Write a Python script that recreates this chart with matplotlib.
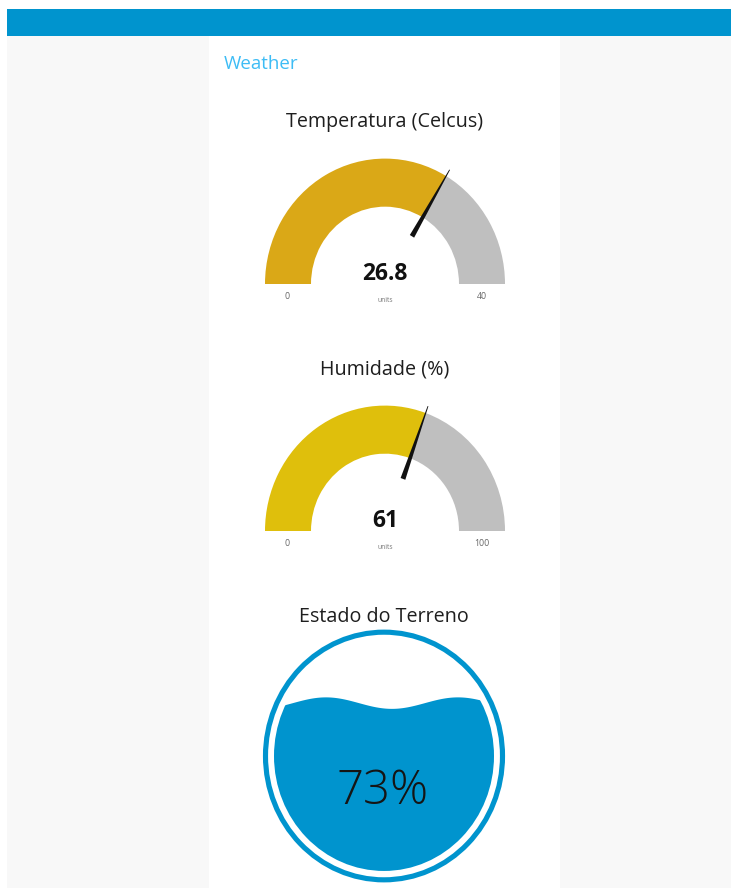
import numpy as np
import matplotlib.pyplot as plt
from matplotlib.patches import Rectangle, Wedge, Circle, Polygon
from matplotlib.transforms import Affine2D

# dashboard content
page_title = 'Weather'
gauge_titles = ['Temperatura (Celcus)', 'Humidade (%)']
gauge_values = [26.8, 61]
gauge_min = [0, 0]
gauge_max = [40, 100]
gauge_units = ['units', 'units']
liquid_title = 'Estado do Terreno'
liquid_value = 73

# styling / layout (pixels)
gauge_colors = ['#daa817', '#dfbf0c']
gauge_rest = '#bfbfbf'
gauge_cx = 385
gauge_cy = [284, 531]
title_y = [122, 369]
r_out, r_in = 120, 74
stretch = 1.045  # screenshot is slightly taller than wide
blue = '#0094ce'
plt.rcParams['font.family'] = ['Open Sans', 'DejaVu Sans']

fig = plt.figure(figsize=(7.31, 8.88), dpi=100)
ax = fig.add_axes([0, 0, 1, 1])
ax.set_xlim(0, 731)
ax.set_ylim(888, 0)
ax.axis('off')


def local(cx, cy):
    return Affine2D().scale(1, stretch).translate(cx, cy) + ax.transData


# page background
ax.add_patch(Rectangle((7, 36), 724, 852, color='#f8f8f8', lw=0))
ax.add_patch(Rectangle((209, 36), 351, 852, color='white', lw=0))
ax.add_patch(Rectangle((7, 9), 724, 27, color=blue, lw=0))
ax.text(224, 64, page_title, color='#3dbcf5', fontsize=13.5, va='center', ha='left')

# gauges
for i in range(len(gauge_values)):
    cy = gauge_cy[i]
    tr = local(gauge_cx, cy)
    f = (gauge_values[i] - gauge_min[i]) / (gauge_max[i] - gauge_min[i])
    a = 180 + 180 * f
    ax.add_patch(Wedge((0, 0), r_out, 180, a, width=r_out - r_in,
                       color=gauge_colors[i], lw=0, transform=tr))
    ax.add_patch(Wedge((0, 0), r_out, a, 360, width=r_out - r_in,
                       color=gauge_rest, lw=0, transform=tr))
    # needle
    t = np.deg2rad(a)
    u = np.array([np.cos(t), np.sin(t)])
    n = np.array([-np.sin(t), np.cos(t)])
    base = 53 * u
    tip = 127 * u
    pts = [base + 2.5 * n, tip + 0.4 * n, tip - 0.4 * n, base - 2.5 * n]
    ax.add_patch(Polygon(pts, closed=True, color='#111111', lw=0, transform=tr))

    ax.text(gauge_cx, title_y[i], gauge_titles[i], fontsize=14.2, color='#1e1e1e',
            ha='center', va='center')
    ax.text(gauge_cx, cy - 10, f'{gauge_values[i]:g}', fontsize=16.5,
            fontweight='bold', color='#111111', ha='center', va='center')
    ax.text(gauge_cx, cy + 16, gauge_units[i], fontsize=4.8, color='#777777',
            ha='center', va='center')
    ax.text(287, cy + 12, f'{gauge_min[i]:g}', fontsize=6.3, color='#666666',
            ha='center', va='center')
    ax.text(482, cy + 12, f'{gauge_max[i]:g}', fontsize=6.3, color='#666666',
            ha='center', va='center')

# liquid fill gauge
lcx, lcy = 384, 756
ltr = local(lcx, lcy)
ax.text(lcx, 617, liquid_title, fontsize=14.2, color='#1e1e1e', ha='center', va='center')
ax.add_patch(Circle((0, 0), 118.5, fill=False, ec=blue, lw=3.7, transform=ltr))
r_fill = 110
level = r_fill - 2 * r_fill * liquid_value / 100
xs = np.linspace(-r_fill, r_fill, 300)
wave = level + 5.5 * np.cos(2 * np.pi * (xs - 8) / 132)
water = np.column_stack([np.r_[xs, r_fill, -r_fill], np.r_[wave, r_fill + 2, r_fill + 2]])
wp = Polygon(water, closed=True, color=blue, lw=0, transform=ltr)
ax.add_patch(wp)
wp.set_clip_path(Circle((0, 0), r_fill, transform=ltr))
ax.text(lcx - 1, 792, f'{liquid_value}%', fontsize=34, color='#151515',
        ha='center', va='center', fontweight='light')

fig.savefig('out.png', dpi=100)
